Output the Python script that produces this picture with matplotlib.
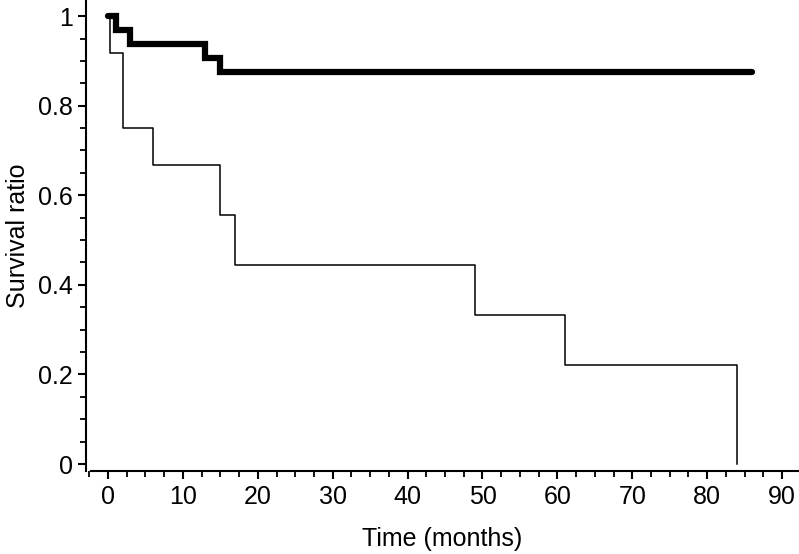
import matplotlib
matplotlib.use("Agg")
import matplotlib.pyplot as plt
from matplotlib.ticker import MultipleLocator

plt.rcParams['font.family'] = ['Liberation Sans', 'DejaVu Sans']

# Kaplan-Meier step data
thick_t = [0, 1, 3, 13, 15, 86]
thick_s = [1.0, 0.969, 0.9375, 0.906, 0.875, 0.875]

thin_t = [0, 0.3, 2, 6, 15, 17, 49, 61, 84, 84]
thin_s = [1.0, 0.917, 0.75, 0.667, 0.556, 0.444, 0.333, 0.222, 0.0, 0.0]

x_ticks = [0, 10, 20, 30, 40, 50, 60, 70, 80, 90]
y_ticks = [0, 0.2, 0.4, 0.6, 0.8, 1.0]
y_ticklabels = ['0', '0.2', '0.4', '0.6', '0.8', '1']

W, H = 799, 554
fig = plt.figure(figsize=(W/100, H/100), dpi=100)
ax = fig.add_axes([86/W, (H-471)/H, (799-86)/W, 471/H])

ax.step(thin_t, thin_s, where='post', color='black', lw=1.1)
ax.step(thick_t, thick_s, where='post', color='black', lw=4.5,
        solid_capstyle='round', solid_joinstyle='miter')

ax.set_xlim(-2.94, 92.26)
ax.set_ylim(-0.0156, 1.036)
ax.spines['top'].set_visible(False)
ax.spines['right'].set_visible(False)
ax.spines['bottom'].set_bounds(-2.27, 92.26)
for s in ('left', 'bottom'):
    ax.spines[s].set_linewidth(1.5)

ax.set_xticks(x_ticks)
ax.set_yticks(y_ticks)
ax.set_yticklabels(y_ticklabels)
ax.xaxis.set_minor_locator(MultipleLocator(2.5))
ax.yaxis.set_minor_locator(MultipleLocator(0.05))
ax.tick_params(which='major', length=6, width=1.5, labelsize=18, direction='out')
ax.tick_params(which='minor', length=4, width=1.3, direction='out')
ax.tick_params(axis='x', which='major', pad=4)
ax.tick_params(axis='y', which='major', pad=3.5)

ax.set_xlabel('Time (months)', fontsize=18, labelpad=13)
ax.set_ylabel('Survival ratio', fontsize=18, labelpad=6)

fig.savefig('out.png', dpi=100)
